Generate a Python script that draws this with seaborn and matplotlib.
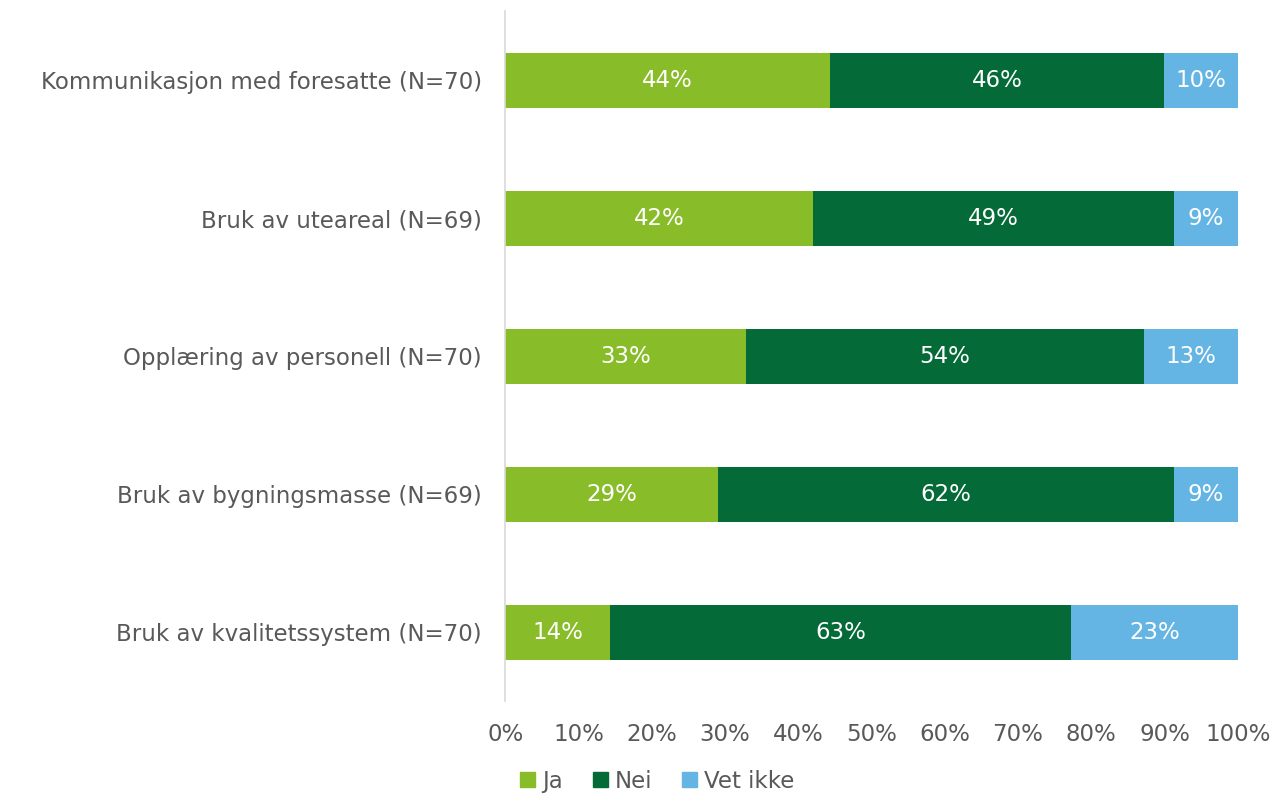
import matplotlib
matplotlib.use("Agg")
import matplotlib.pyplot as plt
import seaborn as sns
import pandas as pd
import numpy as np

categories = [
    "Kommunikasjon med foresatte (N=70)",
    "Bruk av uteareal (N=69)",
    "Opplæring av personell (N=70)",
    "Bruk av bygningsmasse (N=69)",
    "Bruk av kvalitetssystem (N=70)",
]
ja = [44.3, 42.0, 32.9, 29.0, 14.3]
nei = [45.7, 49.3, 54.3, 62.3, 62.9]
vet_ikke = [10.0, 8.7, 12.9, 8.7, 22.9]
series = ["Ja", "Nei", "Vet ikke"]
colors = ["#88BC28", "#046A38", "#64B4E4"]
text_col = "#595959"
fs = 16.5

sns.set_style("white")
plt.rcParams["font.family"] = ["DejaVu Sans"]

df = pd.DataFrame({"cat": categories, "Ja": ja, "Nei": nei, "Vet ikke": vet_ikke})
vals = df[series].to_numpy()
cum = vals.cumsum(axis=1)

fig = plt.figure(figsize=(12.76, 7.96), dpi=100)
ax = fig.add_axes([0.396, 0.119, 0.574, 0.867])

# draw cumulative totals from back to front so segments stack
for j in range(len(series) - 1, -1, -1):
    sns.barplot(x=cum[:, j], y=df["cat"], orient="h", color=colors[j],
                width=0.4, ax=ax, saturation=1, edgecolor="none")

for i in range(len(categories)):
    left = 0
    for j in range(len(series)):
        v = vals[i, j]
        ax.text(left + v / 2, i, f"{round(v)}%", ha="center", va="center",
                color="white", fontsize=fs)
        left += v

ax.set_xlim(0, 100)
ax.set_ylim(4.5, -0.5)
ax.set_xticks(np.arange(0, 101, 10))
ax.set_xticklabels([f"{t}%" for t in range(0, 101, 10)])
ax.set_xlabel("")
ax.set_ylabel("")
ax.tick_params(axis="x", colors=text_col, labelsize=fs, length=0, pad=16)
ax.tick_params(axis="y", colors=text_col, labelsize=fs, length=0, pad=17)
for s in ["top", "right", "bottom"]:
    ax.spines[s].set_visible(False)
ax.spines["left"].set_color("#D9D9D9")
ax.spines["left"].set_linewidth(1.2)

handles = [plt.Rectangle((0, 0), 1, 1, color=c) for c in colors]
fig.legend(handles, series, loc="lower center", bbox_to_anchor=(0.515, -0.022),
           ncol=3, frameon=False, fontsize=fs, labelcolor=text_col,
           handlelength=0.65, handleheight=0.65, handletextpad=0.3, columnspacing=1.3)

fig.savefig("out.png", dpi=100)
